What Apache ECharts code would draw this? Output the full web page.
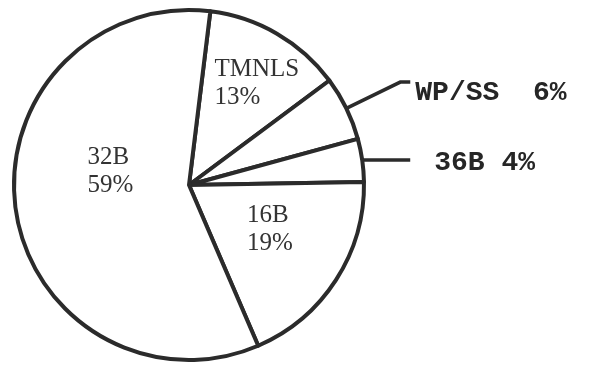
<!DOCTYPE html>
<html>
<head>
<meta charset="utf-8">
<title>pie</title>
<style>
    html, body { margin: 0; padding: 0; background: #fff; }
    #chart { width: 589px; height: 367px; }
</style>
<script src="https://cdn.jsdelivr.net/npm/echarts@6/dist/echarts.min.js"></script>
</head>
<body>
<div id="chart"></div>
<script>
var names = ['TMNLS', 'WP/SS', '36B', '16B', '32B'];
var values = [13, 6, 4, 19, 59];
var labelTexts = ['TMNLS\n13%', 'WP/SS  6%', '36B 4%', '16B\n19%', '32B\n59%'];
var outsideNames = ['WP/SS', '36B'];

(function () {
    var ink = '#2b2b2b';
    var chart = echarts.init(document.getElementById('chart'));

    // per-label nudges so the inside text sits where it was typed on the sheet
    var nudges = {
        'TMNLS': [-20, -23],
        '16B': [-18, -5],
        '32B': [-12, -26]
    };
    // blank line above the outside text pushes it below the leader line end
    var drops = {
        'WP/SS': 22,
        '36B': 6
    };

    var data = [];
    for (var i = 0; i < names.length; i++) {
        var d = { name: names[i], value: values[i] };
        if (outsideNames.indexOf(names[i]) >= 0) {
            d.label = {
                position: 'outside',
                distanceToLabelLine: names[i] === '36B' ? 24 : 5,
                formatter: '{gap| }\n{o|' + labelTexts[i] + '}',
                rich: {
                    gap: { fontSize: 4, lineHeight: drops[names[i]] },
                    o: {
                        fontFamily: 'Liberation Mono',
                        fontWeight: 'bold',
                        fontSize: 28,
                        lineHeight: 30,
                        color: '#262626'
                    }
                }
            };
            d.labelLine = {
                show: true,
                length: names[i] === '36B' ? 1 : 60,
                length2: names[i] === '36B' ? 47 : 10
            };
        }
        data.push(d);
    }

    var option = {
        backgroundColor: '#fff',
        animation: false,
        series: [{
            type: 'pie',
            center: [189, 185],
            radius: 175,
            startAngle: 83,
            clockwise: true,
            avoidLabelOverlap: false,
            emphasis: { disabled: true },
            itemStyle: {
                color: '#fff',
                borderColor: ink,
                borderWidth: 4
            },
            label: {
                show: true,
                position: 'inside',
                fontFamily: 'Liberation Serif',
                fontSize: 25,
                lineHeight: 28,
                color: '#333',
                formatter: function (p) {
                    return labelTexts[p.dataIndex];
                }
            },
            labelLine: {
                show: false,
                smooth: false,
                lineStyle: { color: ink, width: 3.5 }
            },
            labelLayout: function (p) {
                var n = nudges[names[p.dataIndex]];
                if (!n) {
                    return {};
                }
                return { align: 'left', dx: n[0], dy: n[1] };
            },
            data: data
        }]
    };
    chart.setOption(option);

    window.addEventListener('resize', function () {
        chart.resize();
    });
})();
</script>
</body>
</html>
